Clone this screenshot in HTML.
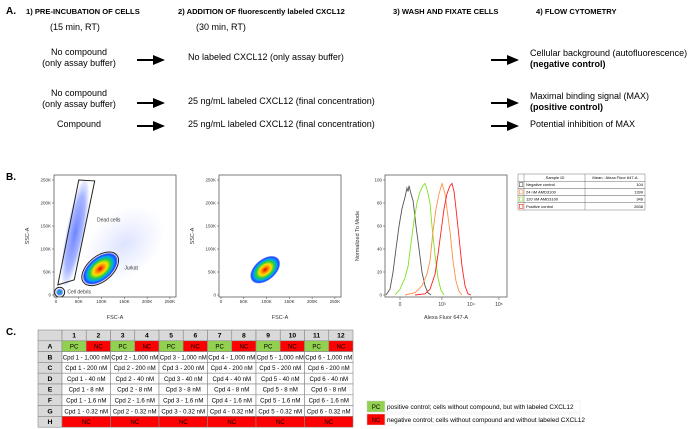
<!DOCTYPE html>
<html><head><meta charset="utf-8"><style>
html,body{margin:0;padding:0;background:#fff}
svg{display:block}
text{font-family:"Liberation Sans Narrow","Liberation Sans",sans-serif}
</style></head><body>
<svg id="fig" width="700" height="429" viewBox="0 0 700 429" xmlns="http://www.w3.org/2000/svg">
<defs>
<marker id="ah" markerWidth="6" markerHeight="6" refX="5" refY="3" orient="auto"><path d="M0,0.5 L6,3 L0,5.5z" fill="#000"/></marker>
<radialGradient id="gJ"><stop offset="0" stop-color="#e00000"/><stop offset="0.2" stop-color="#ff8000"/><stop offset="0.4" stop-color="#ffe000"/><stop offset="0.6" stop-color="#20d040"/><stop offset="0.78" stop-color="#00a0ff"/><stop offset="0.92" stop-color="#2040ff"/><stop offset="1" stop-color="#2040ff" stop-opacity="0.3"/></radialGradient>
<radialGradient id="gD"><stop offset="0" stop-color="#3050ff" stop-opacity="0.7"/><stop offset="0.7" stop-color="#4060ff" stop-opacity="0.45"/><stop offset="1" stop-color="#6080ff" stop-opacity="0.1"/></radialGradient>
<radialGradient id="gH"><stop offset="0" stop-color="#6080ff" stop-opacity="0.22"/><stop offset="1" stop-color="#8090ff" stop-opacity="0"/></radialGradient>
<radialGradient id="gS"><stop offset="0" stop-color="#20c040"/><stop offset="0.5" stop-color="#2080ff"/><stop offset="1" stop-color="#3050ff" stop-opacity="0.3"/></radialGradient>
</defs>

<g font-size="9">
<text x="6" y="14" font-weight="bold" font-size="10">A.</text>
<g font-weight="bold" font-size="7.6">
<text x="26" y="14">1) PRE-INCUBATION OF CELLS</text>
<text x="178" y="14">2) ADDITION OF fluorescently labeled CXCL12</text>
<text x="393" y="14">3) WASH AND FIXATE CELLS</text>
<text x="536" y="14">4) FLOW CYTOMETRY</text>
</g>
<text x="50" y="30">(15 min, RT)</text>
<text x="196" y="30">(30 min, RT)</text>
<text x="79" y="55" text-anchor="middle">No compound</text>
<text x="79" y="66" text-anchor="middle">(only assay buffer)</text>
<text x="188" y="60">No labeled CXCL12 (only assay buffer)</text>
<text x="530" y="56">Cellular background (autofluorescence)</text>
<text x="530" y="67" font-weight="bold">(negative control)</text>
<text x="79" y="96" text-anchor="middle">No compound</text>
<text x="79" y="107" text-anchor="middle">(only assay buffer)</text>
<text x="188" y="104">25 ng/mL labeled CXCL12 (final concentration)</text>
<text x="530" y="99">Maximal binding signal (MAX)</text>
<text x="530" y="110" font-weight="bold">(positive control)</text>
<text x="79" y="127" text-anchor="middle">Compound</text>
<text x="188" y="127">25 ng/mL labeled CXCL12 (final concentration)</text>
<text x="530" y="127">Potential inhibition of MAX</text>
<g stroke="#000" stroke-width="2" marker-end="url(#ah)">
<line x1="137" y1="60" x2="163" y2="60"/>
<line x1="491" y1="60" x2="517" y2="60"/>
<line x1="137" y1="103" x2="163" y2="103"/>
<line x1="491" y1="103" x2="517" y2="103"/>
<line x1="137" y1="126" x2="163" y2="126"/>
<line x1="491" y1="126" x2="517" y2="126"/>
</g>
</g>

<text x="6" y="180" font-weight="bold" font-size="10">B.</text>
<text x="6" y="335" font-weight="bold" font-size="10">C.</text>
<g id="plots"></g>
<g id="tableC"></g>
</svg>
<script>
// ---------- data ----------
const scatterTicks = [0, 50, 100, 150, 200, 250];
const scatterTickLabels = ['0', '50K', '100K', '150K', '200K', '250K'];
// populations: [xK, yK, rxK, ryK, angleDeg]
const haze = [150, 110, 100, 70, -40];
const deadCells = [42, 135, 20, 118, 11];
const jurkat = [97, 57, 45, 25, -40];
const debris = [8, 6, 8, 8, 0];
const sortedJurkat = [97, 55, 38, 23, -40];
const deadGate = [[50, 250], [85, 248], [40, 33], [4, 22]];
const gateLabels = ['Dead cells', 'Jurkat', 'Cell debris'];
const gateLabelX = [90, 150, 25];
const gateLabelY = [160, 55, 3];
const histTickPos = [12.3, 46.7, 70.5, 93.4];
const histTickLabels = ['0', '10³', '10⁴', '10⁵'];
const histYTicks = [0, 20, 40, 60, 80, 100];
const grayX = [0.8,4.1,6.6,9.0,11.5,13.9,16.4,18.0,18.9,19.7,21.3,23.0,25.4,27.9,30.3,32.8,35.2,37.7];
const grayY = [0,5,20,40,60,75,85,93,90,95,88,82,60,40,20,8,2,0];
const greenX = [8.2,12.3,16.4,18.9,21.3,23.8,26.2,28.7,31.1,32.8,34.4,36.9,38.5,41.0,43.4,45.9,48.4];
const greenY = [0,5,15,25,45,65,80,90,95,97,92,80,60,35,15,4,0];
const orangeX = [16.4,24.6,30.3,34.4,36.9,39.3,41.8,44.3,46.7,49.2,50.8,53.3,55.7,58.2,60.7,63.1];
const orangeY = [0,2,8,18,30,55,75,88,97,88,75,55,30,12,3,0];
const redX = [24.6,32.8,36.9,41.0,43.4,45.9,48.4,50.8,53.3,54.9,56.6,58.2,60.7,63.1,65.6,68.0,70.5];
const redY = [0,1,5,18,35,55,75,88,95,97,90,75,50,25,8,1,0];
const sampleIds = ['Negative control', '24 nM AMD3100', '120 nM AMD3100', 'Positive control'];
const sampleMeans = ['104', '1399', '346', '2638'];
const sampleColors = ['#555', '#ff9040', '#80e020', '#ff2020'];
const plateCols = ['1','2','3','4','5','6','7','8','9','10','11','12'];
const plateRows = ['A','B','C','D','E','F','G','H'];
const concentrations = ['1,000 nM','200 nM','40 nM','8 nM','1.6 nM','0.32 nM'];

const NS = 'http://www.w3.org/2000/svg';
function mk(tag, attrs, parent) {
  const e = document.createElementNS(NS, tag);
  for (const k in attrs) e.setAttribute(k, attrs[k]);
  parent.appendChild(e);
  return e;
}
const plots = document.getElementById('plots');

function scatter(x0, name, pops, gate) {
  const L = x0, R = x0 + 122, T = 175, B = 297;
  const sx = v => L + 2 + v / 270 * 123;
  const sy = v => 295 - v / 250 * 115;
  const g = mk('g', {}, plots);
  
  
  const clip = mk('clipPath', {id: 'c' + x0}, g);
  mk('rect', {x: L, y: T, width: R - L, height: B - T}, clip);
  const inner = mk('g', {'clip-path': 'url(#c' + x0 + ')'}, g);
  pops.forEach(p => {
    const [cx, cy, rx, ry, a, fill] = p;
    const el = mk('ellipse', {cx: sx(cx), cy: sy(cy), rx: rx / 270 * 123, ry: ry / 250 * 115, fill: fill,
      transform: `rotate(${a} ${sx(cx)} ${sy(cy)})`}, inner);
    
    
  });
  if (gate) {
    const poly = mk('polygon', {points: deadGate.map(p => sx(p[0]) + ',' + sy(p[1])).join(' '), fill: 'none', stroke: '#222', 'stroke-width': 1}, inner);
    
    
    const jg = mk('ellipse', {cx: sx(jurkat[0]), cy: sy(jurkat[1]), rx: jurkat[2] / 270 * 123 + 1, ry: jurkat[3] / 250 * 115 + 1, fill: 'none', stroke: '#222', 'stroke-width': 1,
      transform: `rotate(${jurkat[4]} ${sx(jurkat[0])} ${sy(jurkat[1])})`}, inner);
    
    
    const dg = mk('circle', {cx: sx(debris[0]), cy: sy(debris[1]), r: 5, fill: 'none', stroke: '#222', 'stroke-width': 1}, inner);
    
    
    gateLabels.forEach((t, i) => {
      const tx = mk('text', {x: sx(gateLabelX[i]), y: sy(gateLabelY[i]), 'font-size': 5, fill: '#333', 'font-family': 'Liberation Sans'}, g);
      tx.textContent = t;
      
      
    });
  }
  mk('rect', {x: L, y: T, width: R - L, height: B - T, fill: 'none', stroke: '#444', 'stroke-width': 0.7}, g);
  scatterTicks.forEach((t, i) => {
    const yl = mk('text', {x: L - 3, y: sy(t) + 1.5, 'font-size': 4.5, 'text-anchor': 'end', fill: '#333', 'font-family': 'Liberation Sans'}, g);
    yl.textContent = scatterTickLabels[i];
    
    
    const xl = mk('text', {x: sx(t), y: 303, 'font-size': 4.5, 'text-anchor': 'middle', fill: '#333', 'font-family': 'Liberation Sans'}, g);
    xl.textContent = scatterTickLabels[i];
    
    
    mk('line', {x1: L - 2, x2: L, y1: sy(t), y2: sy(t), stroke: '#444', 'stroke-width': 0.5}, g);
    mk('line', {x1: sx(t), x2: sx(t), y1: B, y2: B + 2, stroke: '#444', 'stroke-width': 0.5}, g);
  });
  const xt = mk('text', {x: (L + R) / 2, y: 319, 'font-size': 5.5, 'text-anchor': 'middle', fill: '#333', 'font-family': 'Liberation Sans'}, g);
  xt.textContent = 'FSC-A';
  
  
  const yt = mk('text', {x: 0, y: 0, 'font-size': 5.5, 'text-anchor': 'middle', fill: '#333', 'font-family': 'Liberation Sans', transform: `translate(${L - 25} 236) rotate(-90)`}, g);
  yt.textContent = 'SSC-A';
  
  
}
scatter(54, 'scatter-all-events', [
  [...haze, 'url(#gH)'], [...deadCells, 'url(#gD)'], [...jurkat, 'url(#gJ)'], [...debris, 'url(#gS)']
], true);
scatter(219, 'scatter-jurkat-gated', [[...sortedJurkat, 'url(#gJ)']], false);

// histogram
(function () {
  const L = 385, R = 507, T = 175, B = 297;
  const sx = u => L + u / 100 * 122;
  const sy = v => 295 - v / 100 * 115;
  const g = mk('g', {}, plots);
  
  
  mk('rect', {x: L, y: T, width: R - L, height: B - T, fill: 'none', stroke: '#444', 'stroke-width': 0.7}, g);
  const series = [[grayX, grayY, '#555', 'negative-control-curve'], [greenX, greenY, '#80e020', 'amd3100-120nm-curve'],
                  [orangeX, orangeY, '#ff9040', 'amd3100-24nm-curve'], [redX, redY, '#ff2020', 'positive-control-curve']];
  series.forEach(s => {
    const p = mk('polyline', {points: s[0].map((x, i) => sx(x) + ',' + sy(s[1][i])).join(' '), fill: 'none', stroke: s[2], 'stroke-width': 0.9}, g);
    
    
  });
  histYTicks.forEach(t => {
    mk('line', {x1: L - 2, x2: L, y1: sy(t), y2: sy(t), stroke: '#444', 'stroke-width': 0.5}, g);
    const yl = mk('text', {x: L - 3, y: sy(t) + 1.5, 'font-size': 4.5, 'text-anchor': 'end', fill: '#333', 'font-family': 'Liberation Sans'}, g);
    yl.textContent = t;
    
    
  });
  histTickPos.forEach((t, i) => {
    mk('line', {x1: sx(t), x2: sx(t), y1: B, y2: B + 3, stroke: '#444', 'stroke-width': 0.5}, g);
    const xl = mk('text', {x: sx(t), y: 306, 'font-size': 5, 'text-anchor': 'middle', fill: '#333', 'font-family': 'Liberation Sans'}, g);
    xl.textContent = histTickLabels[i];
    
    
  });
  const xt = mk('text', {x: 446, y: 319, 'font-size': 5.5, 'text-anchor': 'middle', fill: '#333', 'font-family': 'Liberation Sans'}, g);
  xt.textContent = 'Alexa Fluor 647-A';
  
  
  const yt = mk('text', {x: 0, y: 0, 'font-size': 5.5, 'text-anchor': 'middle', fill: '#333', 'font-family': 'Liberation Sans', transform: 'translate(359 236) rotate(-90)'}, g);
  yt.textContent = 'Normalized To Mode';
  
  
  const lg = mk('g', {}, plots);
  
  
  const rh = 7.2, lx = 518, ly = 174;
  for (let r = 0; r < 5; r++) {
    mk('rect', {x: lx, y: ly + r * rh, width: 127, height: rh, fill: '#fff', stroke: '#555', 'stroke-width': 0.4}, lg);
  }
  mk('line', {x1: lx + 6, x2: lx + 6, y1: ly, y2: ly + 5 * rh, stroke: '#555', 'stroke-width': 0.4}, lg);
  mk('line', {x1: 585, x2: 585, y1: ly, y2: ly + 5 * rh, stroke: '#555', 'stroke-width': 0.4}, lg);
  const h1 = mk('text', {x: 555, y: ly + 5, 'font-size': 4, 'text-anchor': 'middle', 'font-family': 'Liberation Sans'}, lg);
  h1.textContent = 'Sample ID';
  
  
  const h2 = mk('text', {x: 615, y: ly + 5, 'font-size': 4, 'text-anchor': 'middle', 'font-family': 'Liberation Sans'}, lg);
  h2.textContent = 'Mean : Alexa Fluor 647-A';
  
  
  sampleIds.forEach((s, i) => {
    const y = ly + (i + 1) * rh;
    mk('rect', {x: lx + 1.3, y: y + 1.5, width: 3.6, height: 4, fill: '#fff', stroke: sampleColors[i], 'stroke-width': 0.6}, lg);
    const t = mk('text', {x: lx + 8, y: y + 5, 'font-size': 4, 'font-family': 'Liberation Sans'}, lg);
    t.textContent = s;
    
    
    const m = mk('text', {x: 643, y: y + 5, 'font-size': 4, 'text-anchor': 'end', 'font-family': 'Liberation Sans'}, lg);
    m.textContent = sampleMeans[i];
    
    
  });
})();

// plate table
(function () {
  const tg = document.getElementById('tableC');
  
  
  const X0 = 38, c0 = 24, cw = 24.25, Y0 = 330, rh = 10.8;
  const cx = c => X0 + c0 + c * cw;
  function cell(x, y, w, fill, txt, name, bold) {
    mk('rect', {x: x, y: y, width: w, height: rh, fill: fill, stroke: '#888', 'stroke-width': 0.6}, tg);
    if (txt) {
      const t = mk('text', {x: x + w / 2, y: y + rh / 2 + 2.3, 'font-size': bold ? 6.8 : 6.1, 'text-anchor': 'middle', 'font-weight': bold ? 'bold' : 'normal'}, tg);
      t.textContent = txt;
      
      
    }
  }
  cell(X0, Y0, c0, '#d9d9d9', '', '', false);
  plateCols.forEach((c, i) => cell(cx(i), Y0, cw, '#d9d9d9', c, 'column-header', true));
  plateRows.forEach((r, ri) => {
    const y = Y0 + (ri + 1) * rh;
    cell(X0, y, c0, '#d9d9d9', r, 'row-header', true);
    if (ri === 0) {
      plateCols.forEach((c, i) => cell(cx(i), y, cw, i % 2 ? '#ff0000' : '#92d050', i % 2 ? 'NC' : 'PC', i % 2 ? 'nc-well' : 'pc-well', false));
    } else if (ri === 7) {
      for (let k = 0; k < 6; k++) cell(cx(2 * k), y, 2 * cw, '#ff0000', 'NC', 'nc-well', false);
    } else {
      for (let k = 0; k < 6; k++) cell(cx(2 * k), y, 2 * cw, '#fff', 'Cpd ' + (k + 1) + ' - ' + concentrations[ri - 1], 'compound-well', false);
    }
  });
  const leg = [['PC', '#92d050', 'positive control; cells without compound, but with labeled CXCL12', 401],
               ['NC', '#ff0000', 'negative control; cells without compound and without labeled CXCL12', 414]];
  leg.forEach(l => {
    mk('rect', {x: 367, y: l[3], width: 18, height: 11, fill: l[1], stroke: '#ccc', 'stroke-width': 0.5}, tg);
    mk('rect', {x: 385, y: l[3], width: 195, height: 11, fill: 'none', stroke: '#e4e4e4', 'stroke-width': 0.5}, tg);
    const a = mk('text', {x: 376, y: l[3] + 8, 'font-size': 6, 'text-anchor': 'middle'}, tg);
    a.textContent = l[0];
    
    
    const b = mk('text', {x: 387, y: l[3] + 8, 'font-size': 6.4}, tg);
    b.textContent = l[2];
    
    
  });
})();
</script>
</body></html>
